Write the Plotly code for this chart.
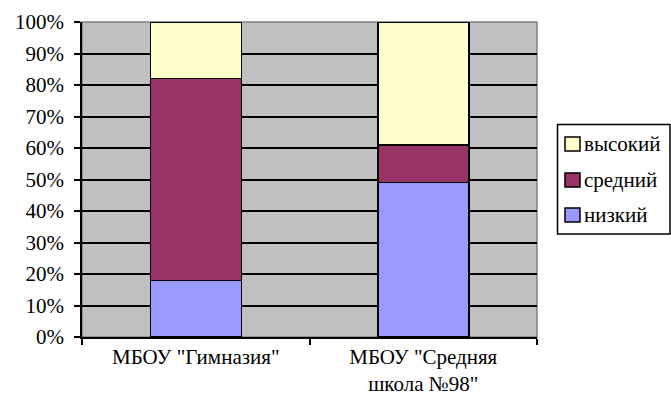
import plotly.graph_objects as go

# School categories and share of students per level (percent)
schools = ['МБОУ "Гимназия"', 'МБОУ "Средняя<br>школа №98"']
low = [18, 49]
mid = [64, 12]
high = [18, 39]
y_ticks = list(range(0, 101, 10))
y_tick_labels = [f"{v}%" for v in y_ticks]

series_names = ["низкий", "средний", "высокий"]
series_values = [low, mid, high]
series_colors = ["#9999FF", "#993366", "#FFFFCC"]

font_family = "Times New Roman, Liberation Serif, serif"
font_size = 21

fig = go.Figure()
for name, values, color in zip(series_names, series_values, series_colors):
    fig.add_trace(go.Bar(
        x=schools,
        y=values,
        name=name,
        marker=dict(color=color, line=dict(color="black", width=1.5)),
        width=0.4,
        showlegend=False,
    ))

# Legend drawn as a framed box with swatches (paper coordinates)
plot_l, plot_r, plot_t, plot_b = 82, 537, 22, 337
W, H = 671, 409
pw, ph = plot_r - plot_l, plot_b - plot_t


def px_x(x):
    return (x - plot_l) / pw


def px_y(y):
    return (plot_b - y) / ph


shapes = [
    # grey frame around the plotting area
    dict(type="rect", xref="paper", yref="paper", x0=0, x1=1, y0=0, y1=1,
         line=dict(color="#808080", width=1.5), layer="below"),
    dict(type="rect", xref="paper", yref="paper",
         x0=px_x(557.5), x1=px_x(670), y0=px_y(234), y1=px_y(124.5),
         line=dict(color="black", width=1.5), fillcolor="white"),
]
annotations = []
legend_rows = [("высокий", "#FFFFCC", 144), ("средний", "#993366", 180), ("низкий", "#9999FF", 215)]
for name, color, cy in legend_rows:
    shapes.append(dict(type="rect", xref="paper", yref="paper",
                       x0=px_x(565), x1=px_x(580), y0=px_y(cy + 7), y1=px_y(cy - 7),
                       line=dict(color="black", width=1.5), fillcolor=color))
    annotations.append(dict(xref="paper", yref="paper", x=px_x(582), y=px_y(cy),
                            xanchor="left", yanchor="middle", text=name, showarrow=False,
                            font=dict(family=font_family, size=font_size)))

fig.update_layout(
    width=W,
    height=H,
    margin=dict(l=plot_l, r=W - plot_r, t=plot_t, b=H - plot_b, autoexpand=False),
    barmode="stack",
    plot_bgcolor="#C0C0C0",
    paper_bgcolor="white",
    font=dict(family=font_family, size=font_size, color="black"),
    showlegend=False,
    xaxis=dict(
        showline=True, linecolor="black", linewidth=1.5,
        ticks="outside", ticklen=6, tickwidth=1.5, tickcolor="black",
        tickson="boundaries",
        showgrid=False,
        automargin=False,
        tickfont=dict(family=font_family, size=font_size),
    ),
    yaxis=dict(
        range=[0, 100],
        tickvals=y_ticks,
        ticktext=y_tick_labels,
        showline=True, linecolor="black", linewidth=1.5,
        ticks="outside", ticklen=6, tickwidth=1.5, tickcolor="black",
        ticklabelstandoff=6,
        automargin=False,
        showgrid=True, gridcolor="black", gridwidth=1.5,
        zeroline=False,
        tickfont=dict(family=font_family, size=font_size),
    ),
    shapes=shapes,
    annotations=annotations,
)

fig.write_html("out.html")
